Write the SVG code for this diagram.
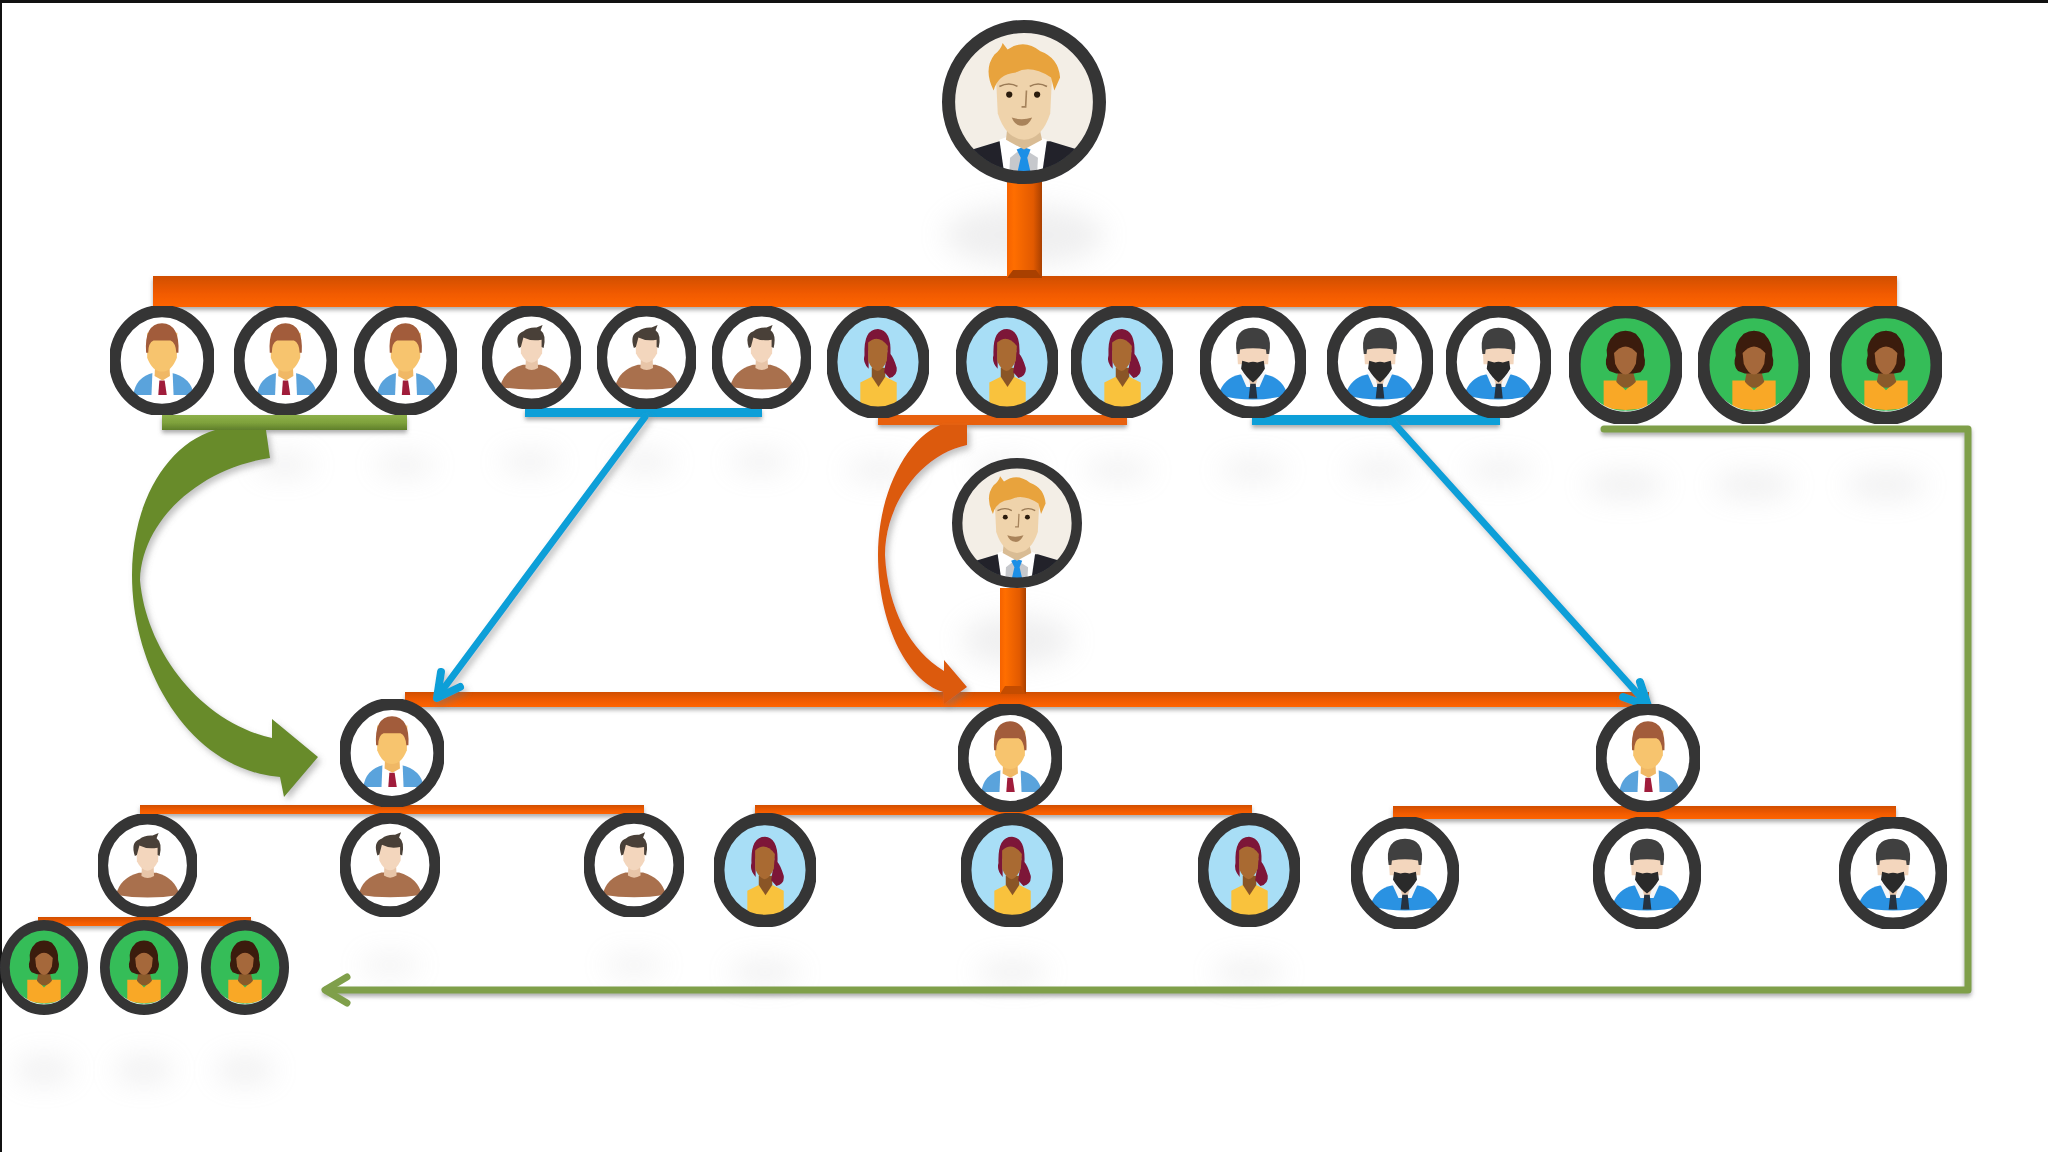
<svg xmlns="http://www.w3.org/2000/svg" width="2048" height="1152" viewBox="0 0 2048 1152">
<style>
.ring{fill:none;stroke:#343436;stroke-width:22}
.ol{fill:url(#ov)}
.bl{fill:#0f9fd8}
.ln{fill:none;stroke-linejoin:round;stroke-linecap:round}
.sh{fill:#b0b0b4;opacity:.2;filter:url(#blur)}
.soft{filter:url(#soft)}
</style>
<defs>
<filter id="blur" x="-80%" y="-150%" width="260%" height="400%"><feGaussianBlur stdDeviation="14"/></filter>
<filter id="soft" x="-5%" y="-5%" width="110%" height="110%"><feGaussianBlur stdDeviation=".7"/></filter>
<filter id="ds" x="-5%" y="-50%" width="110%" height="220%"><feDropShadow dx="0" dy="3" stdDeviation="2" flood-color="#666" flood-opacity=".55"/></filter>
<filter id="ds2" x="-20%" y="-20%" width="140%" height="140%"><feDropShadow dx="3" dy="4" stdDeviation="3" flood-color="#777" flood-opacity=".45"/></filter>
<linearGradient id="ov" x1="0" y1="0" x2="0" y2="1"><stop offset="0" stop-color="#d04e00"/><stop offset=".55" stop-color="#f05a00"/><stop offset="1" stop-color="#ff6400"/></linearGradient>
<linearGradient id="st" x1="0" y1="0" x2="1" y2="0"><stop offset="0" stop-color="#f56200"/><stop offset=".2" stop-color="#ff6e00"/><stop offset=".75" stop-color="#e25a00"/><stop offset="1" stop-color="#a94000"/></linearGradient>
<linearGradient id="gb" x1="0" y1="0" x2="0" y2="1"><stop offset="0" stop-color="#8db04a"/><stop offset=".5" stop-color="#7fa23c"/><stop offset="1" stop-color="#5f7f2a"/></linearGradient>
<clipPath id="in"><circle r="80"/></clipPath>
<clipPath id="inb"><circle r="85"/></clipPath>
<symbol id="boss" overflow="visible" viewBox="-100 -100 200 200">
<g class="soft"><g clip-path="url(#inb)"><circle r="85" fill="#f3eee6"/>
<path d="M-76 62 L-30 48 L32 48 L72 60 L74 95 L-74 95Z" fill="#20232c"/>
<path d="M-30 46 L-3 36 L28 46 L22 88 L-24 88Z" fill="#fff"/>
<path d="M-17 68 L-2 56 L17 68 L16 88 L-18 88Z" fill="#c6c8cc"/>
<path d="M-9 58 L-1 55 L8 58 L4 68 L9 90 L-9 90 L-4 68Z" fill="#1f8fe6"/>
<path d="M-20 28 L18 28 L22 46 L0 58 L-22 46Z" fill="#d9bc94"/>
<path d="M-35 -48 L35 -48 L32 14 Q22 45 0 46 Q-22 45 -32 14Z" fill="#efd3ab"/>
<path d="M-37 -14 Q-50 -40 -36 -58 Q-28 -64 -26 -72 L-20 -64 Q0 -78 20 -62 Q42 -54 44 -30 L37 -14 L33 -30 Q8 -46 -10 -36 Q-32 -34 -37 -14Z" fill="#e8a33c"/>
<circle cx="-18" cy="-9" r="3.8" fill="#2b1b10"/><circle cx="16" cy="-9" r="3.8" fill="#2b1b10"/>
<path d="M-30 -19 Q-18 -25 -8 -19M7 -19 Q17 -25 28 -19" fill="none" stroke="#9a7a55" stroke-width="2"/>
<path d="M3 -14 L2 6 L-3 6" fill="none" stroke="#a5835c" stroke-width="2"/>
<path d="M-15 19 Q-3 23 10 19 Q5 30 -3 29 Q-11 29 -15 19Z" fill="#a9835a"/>
</g><circle r="92" fill="none" stroke="#343436" stroke-width="16"/></g></symbol>
<symbol id="man" overflow="visible" viewBox="-100 -100 200 200">
<g class="soft"><g clip-path="url(#in)"><circle r="80" fill="#fff"/>
<path d="M-54 62 Q-50 30 -16 22 L17 22 Q55 30 60 62Z" fill="#5aa3dc"/>
<path d="M-18 20 L20 20 L22 66 L-20 66Z" fill="#fff"/>
<path d="M-5 36 L5 36 L9 62 L-7 62Z" fill="#a01f3a"/>
<path d="M-13 8 L14 8 L15 28 L1 36 L-14 28Z" fill="#f0b865"/>
<path d="M-28 -50 L29 -50 L28 -5 Q18 20 0 20 Q-18 20 -28 -5Z" fill="#f7c46e"/>
<path d="M-30 -14 Q-34 -66 0 -67 Q34 -66 31 -14 L27 -14 Q26 -32 16 -36 L-16 -36 Q-26 -32 -26 -14Z" fill="#a25c3b"/>
</g><circle r="89" class="ring"/></g></symbol>
<symbol id="bro" overflow="visible" viewBox="-100 -100 200 200">
<g class="soft"><g clip-path="url(#in)"><circle r="80" fill="#fff"/>
<path d="M-62 56 Q-55 24 -17 14 L18 14 Q55 24 63 56 Q0 66 -62 56Z" fill="#a9704e"/>
<path d="M-11 0 L12 0 L13 20 Q0 28 -12 20Z" fill="#e8c5a8"/>
<path d="M-22 -40 L22 -40 L21 -8 Q12 10 0 10 Q-12 10 -21 -8Z" fill="#f3d6bd"/>
<path d="M-25 -18 Q-34 -44 -16 -50 Q-6 -58 10 -57 L22 -62 L18 -52 Q30 -44 24 -18 L20 -20 L20 -34 Q0 -30 -16 -38 L-21 -20Z" fill="#4a4037"/>
</g><circle r="89" class="ring"/></g></symbol>
<symbol id="wom" overflow="visible" viewBox="-100 -100 200 200">
<g class="soft"><g clip-path="url(#in)"><circle r="80" fill="#a8def6"/>
<path d="M-34 80 L-34 36 L-12 26 L0 40 L14 26 L36 36 L36 80Z" fill="#f9c23c"/>
<path d="M-12 10 L14 10 L14 26 L1 44 L-12 26Z" fill="#8a5526"/>
<path d="M-26 -12 Q-28 -58 0 -58 Q26 -56 24 -14 Q30 -8 36 10 Q38 24 22 28 L12 18 L18 -20 L-18 -20 L-18 12 Q-30 0 -26 -12Z" fill="#7d1238"/>
<path d="M-19 -34 Q0 -50 19 -28 L17 -2 Q8 16 -1 16 Q-12 14 -19 -2Z" fill="#a96b31"/>
</g><circle r="89" class="ring"/></g></symbol>
<symbol id="brd" overflow="visible" viewBox="-100 -100 200 200">
<g class="soft"><g clip-path="url(#in)"><circle r="80" fill="#fff"/>
<path d="M-64 58 Q-55 28 -24 22 L24 22 Q55 28 64 58 Q0 74 -64 58Z" fill="#2b92e2"/>
<path d="M-24 18 L24 18 L12 44 L-12 44Z" fill="#f4f6f8"/>
<path d="M-13 14 L14 14 L5 40 L-5 40Z" fill="#e8c8ae"/>
<path d="M-5 38 L5 38 L8 64 L-8 64Z" fill="#27333f"/>
<path d="M-30 -30 L30 -30 L28 4 L-28 4Z" fill="#f3d6bd"/>
<path d="M-30 -14 Q-38 -60 0 -60 Q38 -60 30 -14 L25 -14 L24 -22 Q0 -26 -24 -22 L-25 -14Z" fill="#3f3f3f"/>
<path d="M-20 -2 L-8 1 Q0 -2 8 1 L20 -2 L22 12 Q12 28 0 36 Q-12 28 -22 12Z" fill="#2a2a2c"/>
</g><circle r="89" class="ring"/></g></symbol>
<symbol id="grn" overflow="visible" viewBox="-100 -100 200 200">
<g class="soft"><g clip-path="url(#in)"><circle r="80" fill="#36bd58"/>
<path d="M-38 26 L-16 26 L0 42 L18 26 L38 26 L38 70 Q0 80 -38 70Z" fill="#f9a825"/>
<path d="M-12 8 L12 8 L18 28 Q0 48 -16 28Z" fill="#8a5a2a"/>
<path d="M-28 10 Q-38 0 -32 -16 Q-36 -36 -18 -52 Q0 -62 18 -52 Q34 -36 32 -16 Q38 0 26 12 L14 14 L-16 14Z" fill="#3a1a0b"/>
<path d="M-20 -20 Q0 -42 20 -20 L18 -2 Q10 16 0 16 Q-10 16 -18 -2Z" fill="#a5683a"/>
<path d="M-62 50 Q-30 78 0 76 Q36 78 66 44 L72 86 L-72 86Z" fill="#e8f6ec"/>
</g><circle r="89" class="ring"/></g></symbol>
</defs>
<rect width="2048" height="1152" fill="#fff"/>
<rect width="2048" height="3" fill="#111"/>
<rect width="2" height="1152" fill="#111"/>
<g id="shadows">
<ellipse class="sh" cx="1024" cy="235" rx="80" ry="30"/>
<ellipse class="sh" cx="1017" cy="640" rx="55" ry="25"/>
<ellipse class="sh" cx="530" cy="462" rx="30" ry="10"/><ellipse class="sh" cx="645" cy="462" rx="30" ry="10"/><ellipse class="sh" cx="760" cy="462" rx="30" ry="10"/>
<ellipse class="sh" cx="285" cy="465" rx="30" ry="10"/><ellipse class="sh" cx="405" cy="465" rx="30" ry="10"/>
<ellipse class="sh" cx="880" cy="470" rx="34" ry="10"/><ellipse class="sh" cx="1005" cy="470" rx="34" ry="10"/><ellipse class="sh" cx="1118" cy="470" rx="34" ry="10"/>
<ellipse class="sh" cx="1253" cy="470" rx="34" ry="10"/><ellipse class="sh" cx="1380" cy="470" rx="34" ry="10"/><ellipse class="sh" cx="1500" cy="470" rx="34" ry="10"/>
<ellipse class="sh" cx="1625" cy="485" rx="40" ry="13"/><ellipse class="sh" cx="1754" cy="485" rx="40" ry="13"/><ellipse class="sh" cx="1886" cy="485" rx="40" ry="13"/>
<ellipse class="sh" cx="390" cy="965" rx="30" ry="9"/><ellipse class="sh" cx="634" cy="965" rx="30" ry="9"/><ellipse class="sh" cx="765" cy="972" rx="36" ry="11"/><ellipse class="sh" cx="1012" cy="972" rx="36" ry="11"/><ellipse class="sh" cx="1249" cy="972" rx="36" ry="11"/>
<ellipse class="sh" cx="44" cy="1070" rx="30" ry="13"/><ellipse class="sh" cx="144" cy="1070" rx="30" ry="13"/><ellipse class="sh" cx="245" cy="1070" rx="30" ry="13"/>
</g>
<g id="connectors">
<rect x="153" y="276" width="1744" height="31" class="ol" filter="url(#ds)"/>
<rect x="1007" y="180" width="35" height="98" fill="url(#st)"/>
<path d="M1007 278 L1013 270 L1036 270 L1042 278Z" fill="#a94000"/>
<rect x="162" y="415" width="245" height="15" fill="url(#gb)" filter="url(#ds)"/>
<rect x="525" y="408" width="237" height="9" class="bl" filter="url(#ds)"/>
<rect x="878" y="415" width="249" height="10" fill="#e8600c" filter="url(#ds)"/>
<rect x="1252" y="415" width="248" height="10" class="bl" filter="url(#ds)"/>
<path class="ln" d="M1604 429 L1968 429 L1968 990 L326 990" stroke="#7f9f4a" stroke-width="7" filter="url(#ds)"/>
<path class="ln" d="M347 977 L325 990 L347 1003" stroke="#7f9f4a" stroke-width="7"/>
<rect x="405" y="692" width="1244" height="15" class="ol" filter="url(#ds)"/>
<rect x="1000" y="588" width="26" height="106" fill="url(#st)"/>
<path d="M1000 694 L1005 686 L1021 686 L1026 694Z" fill="#c44c00"/>
<rect x="140" y="805" width="504" height="9" class="ol" filter="url(#ds)"/>
<rect x="755" y="805" width="497" height="10" class="ol" filter="url(#ds)"/>
<rect x="1393" y="806" width="503" height="13" class="ol" filter="url(#ds)"/>
<rect x="38" y="917" width="213" height="9" class="ol" filter="url(#ds)"/>
<path id="green-curve" d="M215 430 L266 430 L270 458 C200 468 142 520 140 580 C146 650 200 722 272 738 L272 719 L318 757 L284 797 L280 777 C190 770 132 670 132 575 C132 505 165 445 215 430Z" fill="#688b2c" filter="url(#ds2)"/>
<path id="orange-curve" d="M940 425 L967 425 L967 445 C920 455 885 505 885 555 C888 610 910 650 944 671 L944 660 L967 687 L944 704 L943 692 C905 680 878 620 878 555 C878 495 905 440 940 425Z" fill="#dc5a0c" filter="url(#ds2)"/>
<g filter="url(#ds2)">
<path class="ln" d="M645 417 L438 696" stroke="#0f9fd8" stroke-width="7"/>
<path class="ln" d="M441 672 L437 698 L460 687" stroke="#0f9fd8" stroke-width="8"/>
<path class="ln" d="M1392 421 L1647 704" stroke="#0f9fd8" stroke-width="7"/>
<path class="ln" d="M1623 697 L1648 706 L1640 682" stroke="#0f9fd8" stroke-width="8"/>
</g>
</g>
<g id="n0" transform="translate(1024 102) scale(.82)"><use href="#boss" x="-100" y="-100" width="200" height="200"/></g>
<g id="n1" transform="translate(162 360.5) scale(.53 .555)"><use href="#man" x="-100" y="-100" width="200" height="200"/></g>
<g id="n2" transform="translate(285.5 360.5) scale(.525 .555)"><use href="#man" x="-100" y="-100" width="200" height="200"/></g>
<g id="n3" transform="translate(405.5 360.5) scale(.525 .555)"><use href="#man" x="-100" y="-100" width="200" height="200"/></g>
<g id="n4" transform="translate(531.5 357.5) scale(.505 .525)"><use href="#bro" x="-100" y="-100" width="200" height="200"/></g>
<g id="n5" transform="translate(646.5 357.5) scale(.505 .525)"><use href="#bro" x="-100" y="-100" width="200" height="200"/></g>
<g id="n6" transform="translate(761.5 357.5) scale(.505 .525)"><use href="#bro" x="-100" y="-100" width="200" height="200"/></g>
<g id="n7" transform="translate(878 362) scale(.52 .57)"><use href="#wom" x="-100" y="-100" width="200" height="200"/></g>
<g id="n8" transform="translate(1007 362) scale(.52 .57)"><use href="#wom" x="-100" y="-100" width="200" height="200"/></g>
<g id="n9" transform="translate(1122 362) scale(.52 .57)"><use href="#wom" x="-100" y="-100" width="200" height="200"/></g>
<g id="n10" transform="translate(1253 362) scale(.54 .57)"><use href="#brd" x="-100" y="-100" width="200" height="200"/></g>
<g id="n11" transform="translate(1380 362) scale(.54 .57)"><use href="#brd" x="-100" y="-100" width="200" height="200"/></g>
<g id="n12" transform="translate(1498.5 362) scale(.535 .57)"><use href="#brd" x="-100" y="-100" width="200" height="200"/></g>
<g id="n13" transform="translate(1625.5 365) scale(.575 .6)"><use href="#grn" x="-100" y="-100" width="200" height="200"/></g>
<g id="n14" transform="translate(1754 365) scale(.57 .6)"><use href="#grn" x="-100" y="-100" width="200" height="200"/></g>
<g id="n15" transform="translate(1886 365) scale(.57 .6)"><use href="#grn" x="-100" y="-100" width="200" height="200"/></g>
<g id="n16" transform="translate(1017 523) scale(.65)"><use href="#boss" x="-100" y="-100" width="200" height="200"/></g>
<g id="n17" transform="translate(392 753) scale(.53 .55)"><use href="#man" x="-100" y="-100" width="200" height="200"/></g>
<g id="n18" transform="translate(1010 758) scale(.53 .55)"><use href="#man" x="-100" y="-100" width="200" height="200"/></g>
<g id="n19" transform="translate(1648 758) scale(.53 .55)"><use href="#man" x="-100" y="-100" width="200" height="200"/></g>
<g id="n20" transform="translate(147.5 865.5) scale(.505 .525)"><use href="#bro" x="-100" y="-100" width="200" height="200"/></g>
<g id="n21" transform="translate(390 865) scale(.505 .53)"><use href="#bro" x="-100" y="-100" width="200" height="200"/></g>
<g id="n22" transform="translate(634 865) scale(.505 .53)"><use href="#bro" x="-100" y="-100" width="200" height="200"/></g>
<g id="n23" transform="translate(765 870) scale(.52 .575)"><use href="#wom" x="-100" y="-100" width="200" height="200"/></g>
<g id="n24" transform="translate(1012 870) scale(.52 .575)"><use href="#wom" x="-100" y="-100" width="200" height="200"/></g>
<g id="n25" transform="translate(1249 870) scale(.52 .575)"><use href="#wom" x="-100" y="-100" width="200" height="200"/></g>
<g id="n26" transform="translate(1405 873) scale(.545 .57)"><use href="#brd" x="-100" y="-100" width="200" height="200"/></g>
<g id="n27" transform="translate(1647 873) scale(.545 .57)"><use href="#brd" x="-100" y="-100" width="200" height="200"/></g>
<g id="n28" transform="translate(1893 873) scale(.545 .57)"><use href="#brd" x="-100" y="-100" width="200" height="200"/></g>
<g id="n29" transform="translate(44 967.5) scale(.44 .475)"><use href="#grn" x="-100" y="-100" width="200" height="200"/></g>
<g id="n30" transform="translate(144 967.5) scale(.44 .475)"><use href="#grn" x="-100" y="-100" width="200" height="200"/></g>
<g id="n31" transform="translate(245 967.5) scale(.44 .475)"><use href="#grn" x="-100" y="-100" width="200" height="200"/></g>
</svg>
